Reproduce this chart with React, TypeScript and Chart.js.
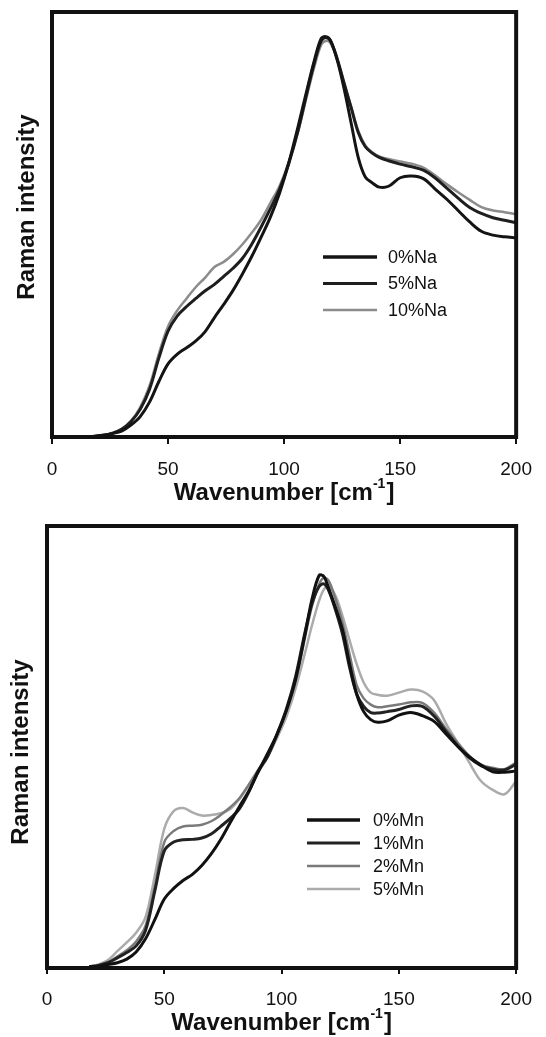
import React, { useEffect, useRef } from "react";
import { Chart, registerables } from "chart.js";
Chart.register(...registerables);

const FONT = '"Liberation Sans", Arial, Helvetica, sans-serif';

// Wavenumber grid (cm^-1) shared by all series
const wavenumbers = [18, 22, 26, 30, 34, 38, 42, 46, 50, 54, 58, 62, 66, 70, 74, 78, 82, 86, 90, 94, 98, 102, 106, 110, 113, 116, 118, 120, 123, 126, 129, 132, 135, 138, 141, 145, 150, 155, 160, 165, 170, 175, 180, 185, 190, 195, 200];
const xTicks = [0, 50, 100, 150, 200];

// Top panel: Na doping
const na0 = [0.2, 0.4, 0.8, 1.4, 2.8, 4.8, 8.2, 13.0, 17.2, 19.5, 21.0, 22.6, 24.8, 28.1, 31.2, 34.5, 38.3, 42.4, 46.9, 51.6, 57.3, 64.5, 73.0, 82.0, 88.5, 93.8, 94.2, 93.3, 88.5, 81.6, 73.6, 65.7, 61.2, 59.8, 58.8, 59.0, 61.0, 61.4, 60.8, 58.4, 56.0, 53.3, 50.6, 48.4, 47.5, 47.1, 46.9];
const na5 = [0.2, 0.4, 0.9, 1.8, 3.6, 6.5, 11.2, 18.5, 24.9, 28.5, 30.7, 32.6, 34.4, 35.9, 37.8, 39.7, 42.0, 45.3, 49.3, 53.6, 58.2, 64.3, 72.0, 81.4, 88.0, 93.2, 94.0, 93.2, 88.8, 83.0, 77.3, 71.6, 68.3, 66.8, 65.8, 65.0, 64.2, 63.6, 62.8, 61.0, 58.6, 56.2, 54.0, 52.6, 51.6, 51.0, 50.4];
const na10 = [0.2, 0.4, 0.9, 1.9, 3.8, 7.0, 12.0, 19.5, 26.0, 29.8, 32.6, 35.3, 37.5, 40.0, 41.2, 43.0, 45.3, 48.0, 51.0, 55.0, 59.0, 64.6, 71.8, 80.6, 87.0, 92.3, 93.2, 92.7, 88.6, 83.0, 77.5, 72.0, 68.6, 67.0, 66.0, 65.4, 64.8, 64.3, 63.4, 61.6, 59.5, 57.6, 55.8, 54.1, 53.3, 52.9, 52.4];

// Bottom panel: Mn doping
const mn0 = [0.3, 0.4, 0.8, 1.2, 2.0, 3.6, 6.6, 11.0, 15.6, 18.0, 19.8, 21.2, 23.2, 25.8, 29.0, 32.8, 36.5, 40.0, 44.3, 48.5, 52.8, 58.2, 65.3, 75.5, 83.5, 88.8, 88.6, 86.0, 81.5, 76.5, 68.8, 62.0, 58.0, 56.2, 55.6, 55.9, 57.2, 57.8, 57.1, 55.8, 53.0, 50.2, 47.8, 45.9, 44.4, 44.3, 44.6];
const mn1 = [0.3, 0.6, 1.2, 2.3, 3.5, 5.0, 8.5, 17.5, 26.5, 28.5, 29.0, 29.1, 29.4, 30.3, 32.0, 33.8, 36.0, 39.8, 44.5, 47.8, 52.8, 58.5, 66.0, 76.0, 82.5, 86.3, 86.9, 85.5, 81.0, 75.5, 68.0, 62.0, 59.2, 57.8, 57.7, 58.0, 58.5, 59.3, 59.2, 57.0, 53.6, 50.3, 47.6, 45.8, 45.0, 44.8, 46.1];
const mn2 = [0.3, 0.6, 1.3, 2.6, 4.0, 6.0, 9.5, 18.5, 28.5, 31.0, 32.0, 32.2, 32.4, 33.2, 34.6, 36.3, 38.4, 41.5, 44.8, 48.3, 52.6, 58.0, 65.0, 74.8, 82.0, 86.8, 88.3, 87.7, 83.5, 78.0, 71.0, 64.0, 61.0, 59.6, 59.0, 59.2, 59.6, 60.1, 60.0, 57.8, 54.2, 51.0, 48.0, 46.0, 45.3, 45.0, 46.5];
const mn5 = [0.3, 0.8, 1.8, 3.8, 5.8, 8.0, 11.5, 21.0, 31.5, 35.5, 36.2, 35.2, 34.5, 34.6, 35.0, 35.9, 38.2, 41.3, 44.2, 47.8, 52.0, 56.8, 63.3, 71.3, 77.6, 83.1, 85.6, 86.4, 84.2, 79.6, 74.1, 68.8, 64.6, 62.3, 61.8, 61.6, 62.3, 63.0, 62.6, 60.6, 55.4, 51.0, 46.5, 42.3, 40.3, 39.3, 42.3];

const naLabels = ["0%Na", "5%Na", "10%Na"];
const mnLabels = ["0%Mn", "1%Mn", "2%Mn", "5%Mn"];

const toPoints = (ys: number[]) => ys.map((y, i) => ({ x: wavenumbers[i], y }));

function drawXTitle(ctx: CanvasRenderingContext2D, cx: number, cy: number) {
  const main = "Wavenumber [cm";
  const sup = "-1";
  const end = "]";
  ctx.save();
  ctx.fillStyle = "#111";
  ctx.textBaseline = "middle";
  ctx.textAlign = "left";
  ctx.font = `bold 24px ${FONT}`;
  const w1 = ctx.measureText(main).width;
  const w3 = ctx.measureText(end).width;
  ctx.font = `bold 14px ${FONT}`;
  const w2 = ctx.measureText(sup).width;
  const total = w1 + w2 + w3 + 1;
  let x = cx - total / 2;
  ctx.font = `bold 24px ${FONT}`;
  ctx.fillText(main, x, cy);
  x += w1;
  ctx.font = `bold 14px ${FONT}`;
  ctx.fillText(sup, x, cy - 9);
  x += w2 + 1;
  ctx.font = `bold 24px ${FONT}`;
  ctx.fillText(end, x, cy);
  ctx.restore();
}

const decorPlugin = {
  id: "decor",
  afterDatasetsDraw(chart: any, _args: any, opts: any) {
    const { ctx, chartArea: a } = chart;
    ctx.save();
    ctx.strokeStyle = "#111";
    ctx.lineWidth = 4;
    ctx.strokeRect(a.left, a.top, a.right - a.left, a.bottom - a.top);
    ctx.restore();

    // axis titles
    drawXTitle(ctx, (a.left + a.right) / 2, opts.xTitleY);
    ctx.save();
    ctx.translate(opts.yTitleX, opts.yTitleY);
    ctx.rotate(-Math.PI / 2);
    ctx.fillStyle = "#111";
    ctx.font = `bold 24px ${FONT}`;
    ctx.textAlign = "center";
    ctx.textBaseline = "middle";
    ctx.fillText("Raman intensity", 0, 0);
    ctx.restore();

    // legend
    const lg = opts.legend;
    chart.data.datasets.forEach((ds: any, i: number) => {
      const y = lg.y + i * lg.dy;
      ctx.save();
      ctx.strokeStyle = ds.borderColor;
      ctx.lineWidth = ds.legendWidth;
      ctx.beginPath();
      ctx.moveTo(lg.x1, y);
      ctx.lineTo(lg.x2, y);
      ctx.stroke();
      ctx.fillStyle = "#111";
      ctx.font = `18px ${FONT}`;
      ctx.textAlign = "left";
      ctx.textBaseline = "middle";
      ctx.fillText(ds.label, lg.tx, y + 1);
      ctx.restore();
    });
  },
};

type PanelProps = {
  series: { label: string; data: number[]; color: string; width: number; legendWidth: number }[];
  height: number;
  padding: { left: number; right: number; top: number; bottom: number };
  axisHeight: number;
  tickLength: number;
  tickPadding: number;
  decor: any;
};

function Panel({ series, height, padding, axisHeight, tickLength, tickPadding, decor }: PanelProps) {
  const ref = useRef<HTMLCanvasElement | null>(null);
  useEffect(() => {
    if (!ref.current) return;
    const chart = new Chart(ref.current, {
      type: "line",
      data: {
        datasets: series.map((s) => ({
          label: s.label,
          data: toPoints(s.data),
          borderColor: s.color,
          borderWidth: s.width,
          legendWidth: s.legendWidth,
          pointRadius: 0,
          tension: 0.35,
          fill: false,
        })) as any,
      },
      options: {
        responsive: false,
        animation: false,
        layout: { padding },
        plugins: {
          legend: { display: false },
          tooltip: { enabled: false },
          decor,
        } as any,
        scales: {
          x: {
            type: "linear",
            min: 0,
            max: 200,
            afterBuildTicks: (scale: any) => {
              scale.ticks = xTicks.map((v) => ({ value: v }));
            },
            afterFit: (scale: any) => {
              scale.height = axisHeight;
            },
            ticks: {
              color: "#111",
              font: { family: FONT, size: 19 },
              padding: tickPadding,
              maxRotation: 0,
              autoSkip: false,
            },
            grid: {
              display: true,
              drawOnChartArea: false,
              drawTicks: true,
              tickLength,
              color: "#111",
              lineWidth: 2,
            },
            border: { display: false },
          },
          y: {
            type: "linear",
            min: 0,
            max: 100,
            display: false,
          },
        },
      },
      plugins: [decorPlugin],
    });
    return () => chart.destroy();
  }, []);
  return <canvas ref={ref} width={546} height={height} style={{ display: "block" }} />;
}

export default function App() {
  return (
    <div style={{ position: "absolute", left: 0, top: 0, width: 546, height: 1037, background: "#fff" }}>
      <Panel
        height={515}
        padding={{ left: 52, right: 25, top: 12, bottom: 0 }}
        axisHeight={78}
        tickLength={7}
        tickPadding={14}
        series={[
          { label: naLabels[0], data: na0, color: "#141414", width: 3, legendWidth: 3.5 },
          { label: naLabels[1], data: na5, color: "#1e1e1e", width: 3, legendWidth: 3 },
          { label: naLabels[2], data: na10, color: "#8c8c8c", width: 2.5, legendWidth: 2.5 },
        ]}
        decor={{
          xTitleY: 493,
          yTitleX: 27,
          yTitleY: 207,
          legend: { x1: 323, x2: 377, tx: 388, y: 257, dy: 26.5 },
        }}
      />
      <Panel
        height={522}
        padding={{ left: 47, right: 22, top: 11, bottom: 0 }}
        axisHeight={69}
        tickLength={6}
        tickPadding={14}
        series={[
          { label: mnLabels[0], data: mn0, color: "#111111", width: 3, legendWidth: 3.5 },
          { label: mnLabels[1], data: mn1, color: "#222222", width: 3, legendWidth: 3 },
          { label: mnLabels[2], data: mn2, color: "#7a7a7a", width: 2.5, legendWidth: 2.5 },
          { label: mnLabels[3], data: mn5, color: "#ababab", width: 2.5, legendWidth: 2.5 },
        ]}
        decor={{
          xTitleY: 508,
          yTitleX: 21,
          yTitleY: 237,
          legend: { x1: 307, x2: 360, tx: 373, y: 305, dy: 23 },
        }}
      />
    </div>
  );
}
